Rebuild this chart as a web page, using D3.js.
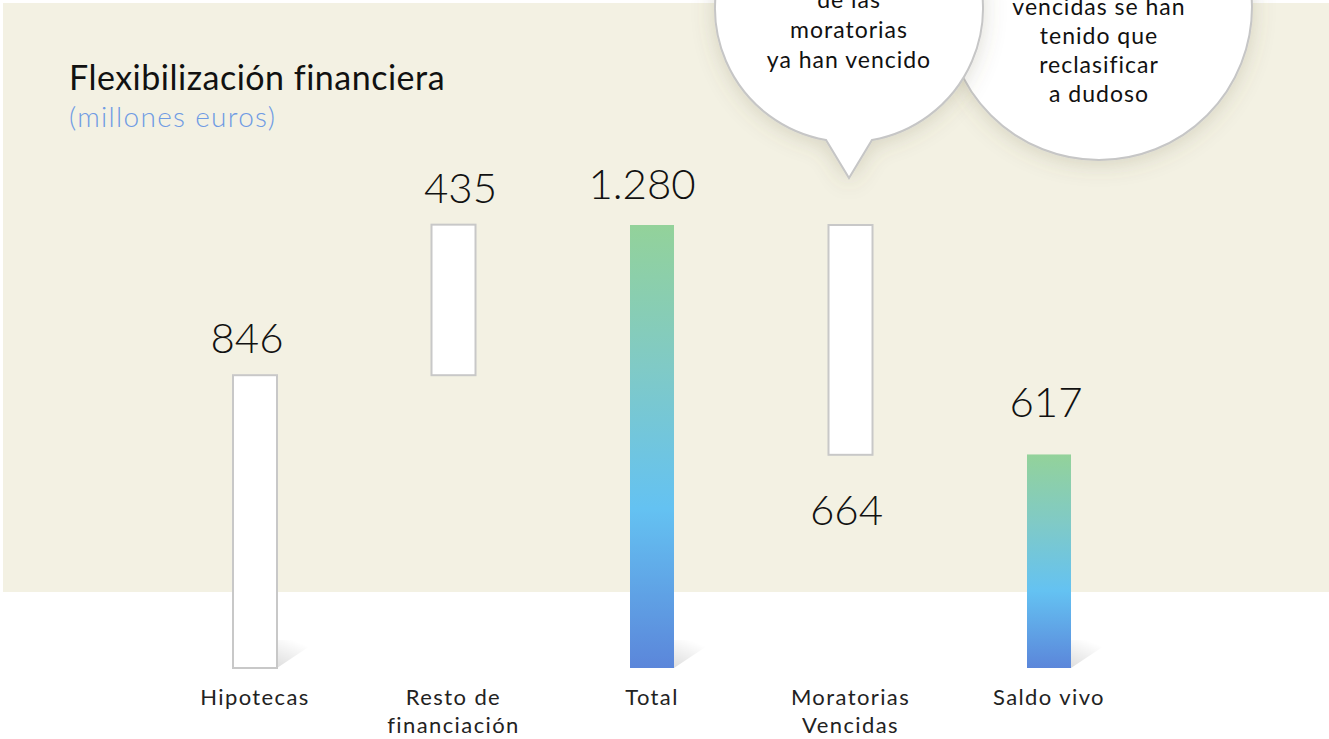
<!DOCTYPE html>
<html>
<head>
<meta charset="utf-8">
<script src="https://cdn.jsdelivr.net/npm/d3@7"></script>
<style>
  html, body { margin: 0; padding: 0; background: #fff; }
  svg { display: block; font-family: Lato, "Open Sans", sans-serif; }
</style>
</head>
<body>
<div id="chart"></div>
<script>
// data
const categories = ["Hipotecas", "Resto de financiación", "Total", "Moratorias Vencidas", "Saldo vivo"];
const categoryLines = [["Hipotecas"], ["Resto de", "financiación"], ["Total"], ["Moratorias", "Vencidas"], ["Saldo vivo"]];
const values = [846, 435, 1280, 664, 617];
const valueLabels = ["846", "435", "1.280", "664", "617"];
const barKinds = ["increase", "increase", "total", "decrease", "total"];
const bubbleOneText = ["de las", "moratorias", "ya han vencido"];
const bubbleTwoText = ["vencidas se han", "tenido que", "reclasificar", "a dudoso"];

const width = 1329, height = 739;
const baseY = 668, topY = 225;
const barW = 44;
// value label offsets from the bar (layout only)
const labelDy = [22, 22, 26, 70, 37];
const labelDx = [-8, 7, -10, -4, -3];

// waterfall start / end for each bar
let running = 0;
const bars = values.map((v, i) => {
    let start, end;
    if (barKinds[i] === "increase") { start = running; end = running + v; running = end; }
    else if (barKinds[i] === "decrease") { start = running - v; end = running; running = start; }
    else { start = 0; end = v; running = v; }
    return {name: categories[i], lines: categoryLines[i], value: v, label: valueLabels[i], kind: barKinds[i], start, end, i};
});

const svg = d3.select("#chart").append("svg")
    .attr("width", width)
    .attr("height", height);

const defs = svg.append("defs");

const grad = defs.append("linearGradient")
    .attr("id", "barGrad")
    .attr("x1", 0).attr("y1", 0).attr("x2", 0).attr("y2", 1);
grad.append("stop").attr("offset", "0%").attr("stop-color", "#93d29a");
grad.append("stop").attr("offset", "32%").attr("stop-color", "#80cac6");
grad.append("stop").attr("offset", "64%").attr("stop-color", "#64c2f2");
grad.append("stop").attr("offset", "100%").attr("stop-color", "#5b86da");

const shade = defs.append("linearGradient")
    .attr("id", "shadeGrad")
    .attr("x1", 0).attr("y1", 1).attr("x2", 0.55).attr("y2", 0.1);
shade.append("stop").attr("offset", "0%").attr("stop-color", "#000").attr("stop-opacity", 0.13);
shade.append("stop").attr("offset", "100%").attr("stop-color", "#000").attr("stop-opacity", 0);

const drop = defs.append("filter")
    .attr("id", "bubbleShadow")
    .attr("x", "-30%").attr("y", "-30%").attr("width", "160%").attr("height", "160%");
drop.append("feDropShadow")
    .attr("dx", 0).attr("dy", 3)
    .attr("stdDeviation", 11)
    .attr("flood-color", "#6b6640")
    .attr("flood-opacity", 0.22);

// beige panel
svg.append("rect")
    .attr("x", 3).attr("y", 3)
    .attr("width", width - 3).attr("height", 589)
    .attr("fill", "#f3f1e3");

// scales
const xScale = d3.scalePoint()
    .domain(categories)
    .range([255, 1049]);
const yScale = d3.scaleLinear()
    .domain([0, 1280])
    .range([baseY, topY]);

// title
svg.append("text")
    .attr("x", 69).attr("y", 90)
    .attr("font-size", 34)
    .attr("letter-spacing", 0.5)
    .attr("fill", "#111")
    .text("Flexibilización financiera");
svg.append("text")
    .attr("x", 69).attr("y", 127)
    .attr("font-size", 28)
    .attr("letter-spacing", 1.3)
    .attr("font-weight", 300)
    .attr("fill", "#6f9be3")
    .text("(millones euros)");

// bubbles (second one sits behind the first)
const b2 = {cx: 1099, cy: 7, r: 153};
svg.append("circle")
    .attr("cx", b2.cx).attr("cy", b2.cy).attr("r", b2.r)
    .attr("fill", "#fff")
    .attr("stroke", "#c6c6c6")
    .attr("stroke-width", 2)
    .attr("filter", "url(#bubbleShadow)");
svg.append("g")
    .selectAll("text")
    .data(bubbleTwoText)
    .enter()
    .append("text")
    .attr("x", b2.cx)
    .attr("y", (d, i) => 15 + i * 29)
    .attr("text-anchor", "middle")
    .attr("font-size", 23)
    .attr("letter-spacing", 1)
    .attr("fill", "#111")
    .text(d => d);

const b1 = {cx: 849, cy: 8, r: 134, tipY: 178, halfBase: 23};
const bx0 = b1.cx - b1.halfBase, bx1 = b1.cx + b1.halfBase;
const by = b1.cy + Math.sqrt(b1.r * b1.r - b1.halfBase * b1.halfBase);
svg.append("path")
    .attr("d", `M${bx0},${by} A${b1.r},${b1.r} 0 1 1 ${bx1},${by} L${b1.cx},${b1.tipY} Z`)
    .attr("fill", "#fff")
    .attr("stroke", "#c6c6c6")
    .attr("stroke-width", 2)
    .attr("filter", "url(#bubbleShadow)");
svg.append("g")
    .selectAll("text")
    .data(bubbleOneText)
    .enter()
    .append("text")
    .attr("x", b1.cx)
    .attr("y", (d, i) => 8 + i * 30)
    .attr("text-anchor", "middle")
    .attr("font-size", 23)
    .attr("letter-spacing", 1)
    .attr("fill", "#111")
    .text(d => d);

const chart = svg.append("g");

// soft shadow on the floor next to bars that stand on the baseline
chart.selectAll(".floor")
    .data(bars.filter(d => d.start === 0))
    .enter()
    .append("polygon")
    .attr("class", "floor")
    .attr("points", d => {
        const x = xScale(d.name) + barW / 2;
        return `${x},${baseY} ${x},${baseY - 28} ${x + 42},${baseY - 28}`;
    })
    .attr("fill", "url(#shadeGrad)");

// bars
chart.selectAll(".bar")
    .data(bars)
    .enter()
    .append("rect")
    .attr("class", "bar")
    .attr("x", d => xScale(d.name) - barW / 2)
    .attr("y", d => yScale(d.end))
    .attr("width", barW)
    .attr("height", d => yScale(d.start) - yScale(d.end))
    .attr("fill", d => d.kind === "total" ? "url(#barGrad)" : "#fff")
    .attr("stroke", d => d.kind === "total" ? "none" : "#c8c8c8")
    .attr("stroke-width", 2);

// value labels
chart.selectAll(".val")
    .data(bars)
    .enter()
    .append("text")
    .attr("class", "val")
    .attr("x", d => xScale(d.name) + labelDx[d.i])
    .attr("y", d => d.kind === "decrease" ? yScale(d.start) + labelDy[d.i] : yScale(d.end) - labelDy[d.i])
    .attr("text-anchor", "middle")
    .attr("font-size", 42)
    .attr("font-weight", 300)
    .attr("fill", "#111")
    .text(d => d.label);

// category labels
const cat = chart.selectAll(".cat")
    .data(bars)
    .enter()
    .append("text")
    .attr("class", "cat")
    .attr("text-anchor", "middle")
    .attr("font-size", 22)
    .attr("letter-spacing", 1.4)
    .attr("fill", "#222");
cat.selectAll("tspan")
    .data(d => d.lines.map(l => ({l, x: xScale(d.name)})))
    .enter()
    .append("tspan")
    .attr("x", d => d.x)
    .attr("y", (d, i) => 705 + i * 28)
    .text(d => d.l);
</script>
</body>
</html>
